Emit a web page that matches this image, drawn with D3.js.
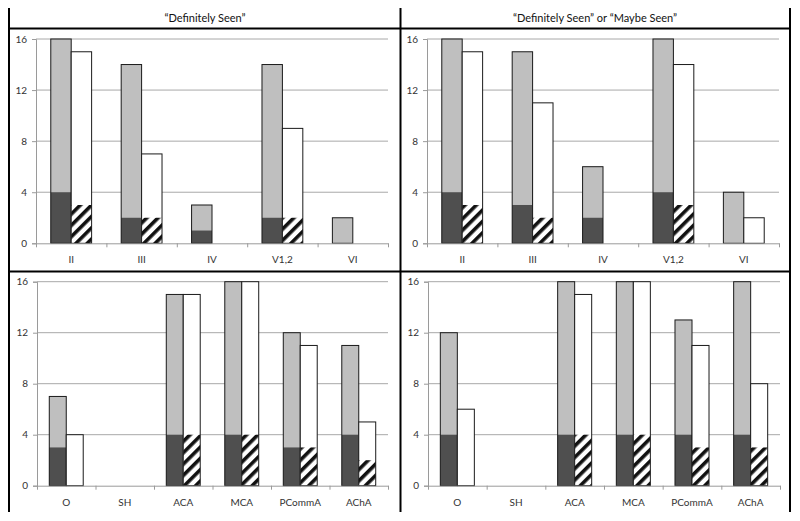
<!DOCTYPE html>
<html>
<head>
<meta charset="utf-8">
<script src="https://cdn.jsdelivr.net/npm/d3@7"></script>
<style>
  html, body { margin: 0; padding: 0; background: #fff; }
  svg { display: block; }
  text { font-family: Lato, "Open Sans", sans-serif; }
</style>
</head>
<body>
<svg id="chart" width="800" height="521"></svg>
<script>
// ---------- data ----------
const titles = ["\u201CDefinitely Seen\u201D", "\u201CDefinitely Seen\u201D or \u201CMaybe Seen\u201D"];
const nerveCats = ["II", "III", "IV", "V1,2", "VI"];
const vesselCats = ["O", "SH", "ACA", "MCA", "PCommA", "AChA"];
const yTicks = [0, 4, 8, 12, 16];

// "Definitely Seen" – cranial nerves
const defNerveGray  = [16, 14, 3, 14, 2];
const defNerveDark  = [4, 2, 1, 2, 0];
const defNerveWhite = [15, 7, 0, 9, 0];
const defNerveHatch = [3, 2, 0, 2, 0];

// "Definitely or Maybe Seen" – cranial nerves
const anyNerveGray  = [16, 15, 6, 16, 4];
const anyNerveDark  = [4, 3, 2, 4, 0];
const anyNerveWhite = [15, 11, 0, 14, 2];
const anyNerveHatch = [3, 2, 0, 3, 0];

// "Definitely Seen" – vessels
const defVesselGray  = [7, 0, 15, 16, 12, 11];
const defVesselDark  = [3, 0, 4, 4, 3, 4];
const defVesselWhite = [4, 0, 15, 16, 11, 5];
const defVesselHatch = [0, 0, 4, 4, 3, 2];

// "Definitely or Maybe Seen" – vessels
const anyVesselGray  = [12, 0, 16, 16, 13, 16];
const anyVesselDark  = [4, 0, 4, 4, 4, 4];
const anyVesselWhite = [6, 0, 15, 16, 11, 8];
const anyVesselHatch = [0, 0, 4, 4, 3, 3];

// ---------- drawing ----------
const svg = d3.select("#chart");

const defs = svg.append("defs");
const pat = defs.append("pattern")
  .attr("id", "hatch")
  .attr("patternUnits", "userSpaceOnUse")
  .attr("width", 8).attr("height", 8)
  .attr("patternTransform", "rotate(45)");
pat.append("rect").attr("width", 8).attr("height", 8).attr("fill", "#fff");
pat.append("rect").attr("width", 3.6).attr("height", 8).attr("fill", "#111");

const panels = [
  { cats: nerveCats, gray: defNerveGray, dark: defNerveDark, white: defNerveWhite, hatch: defNerveHatch,
    x0: 36, x1: 388, yb: 243.3, yt: 39 },
  { cats: nerveCats, gray: anyNerveGray, dark: anyNerveDark, white: anyNerveWhite, hatch: anyNerveHatch,
    x0: 427, x1: 779, yb: 243.3, yt: 39 },
  { cats: vesselCats, gray: defVesselGray, dark: defVesselDark, white: defVesselWhite, hatch: defVesselHatch,
    x0: 37, x1: 388, yb: 485.7, yt: 281.7 },
  { cats: vesselCats, gray: anyVesselGray, dark: anyVesselDark, white: anyVesselWhite, hatch: anyVesselHatch,
    x0: 428, x1: 780, yb: 485.7, yt: 281.7 }
];

panels.forEach(p => {
  const g = svg.append("g");
  const x = d3.scaleBand().domain(p.cats).range([p.x0, p.x1]).paddingInner(0).paddingOuter(0);
  const y = d3.scaleLinear().domain([0, 16]).range([p.yb, p.yt]);
  const bw = x.bandwidth() * 0.29;
  const pad = (x.bandwidth() - 2 * bw) / 2;

  // gridlines
  g.selectAll(".grid").data(yTicks.filter(t => t > 0)).join("line")
    .attr("x1", p.x0).attr("x2", p.x1)
    .attr("y1", d => y(d)).attr("y2", d => y(d))
    .attr("stroke", "#a8a8a8").attr("stroke-width", 1);

  // y axis
  const ya = g.append("g").attr("transform", `translate(${p.x0},0)`)
    .call(d3.axisLeft(y).tickValues(yTicks).tickSize(4).tickPadding(5).tickFormat(d3.format("d")));
  ya.select(".domain").attr("stroke", "#9a9a9a");
  ya.selectAll(".tick line").attr("stroke", "#9a9a9a");
  ya.selectAll(".tick text").attr("fill", "#333").style("font-size", "10px").style("font-family", "Lato, sans-serif");

  const rows = p.cats.map((c, i) => ({ c, gray: p.gray[i], dark: p.dark[i], white: p.white[i], hatch: p.hatch[i] }));

  // gray stacked bars
  const bars = g.selectAll(".bar").data(rows).join("g");
  bars.filter(d => d.gray > 0).append("rect")
    .attr("x", d => x(d.c) + pad).attr("width", bw)
    .attr("y", d => y(d.gray)).attr("height", d => y(0) - y(d.gray))
    .attr("fill", "#bfbfbf");
  bars.filter(d => d.dark > 0).append("rect")
    .attr("x", d => x(d.c) + pad).attr("width", bw)
    .attr("y", d => y(d.dark)).attr("height", d => y(0) - y(d.dark))
    .attr("fill", "#4f4f4f");
  bars.filter(d => d.gray > 0).append("rect")
    .attr("x", d => x(d.c) + pad).attr("width", bw)
    .attr("y", d => y(d.gray)).attr("height", d => y(0) - y(d.gray))
    .attr("fill", "none").attr("stroke", "#1a1a1a").attr("stroke-width", 1);

  // white bars with hatched base
  bars.filter(d => d.white > 0).append("rect")
    .attr("x", d => x(d.c) + pad + bw).attr("width", bw)
    .attr("y", d => y(d.white)).attr("height", d => y(0) - y(d.white))
    .attr("fill", "#fff");
  bars.filter(d => d.hatch > 0).append("rect")
    .attr("x", d => x(d.c) + pad + bw).attr("width", bw)
    .attr("y", d => y(d.hatch)).attr("height", d => y(0) - y(d.hatch))
    .attr("fill", "url(#hatch)");
  bars.filter(d => d.white > 0).append("rect")
    .attr("x", d => x(d.c) + pad + bw).attr("width", bw)
    .attr("y", d => y(d.white)).attr("height", d => y(0) - y(d.white))
    .attr("fill", "none").attr("stroke", "#1a1a1a").attr("stroke-width", 1);

  // x axis: line + boundary ticks
  const xb = d3.scaleLinear().domain([0, p.cats.length]).range([p.x0, p.x1]);
  const xa = g.append("g").attr("transform", `translate(0,${p.yb})`)
    .call(d3.axisBottom(xb).tickValues(d3.range(p.cats.length + 1)).tickSize(4).tickSizeOuter(0).tickFormat(""));
  xa.select(".domain").attr("stroke", "#9a9a9a");
  xa.selectAll(".tick line").attr("stroke", "#9a9a9a");

  // category labels
  const xl = g.append("g").attr("transform", `translate(0,${p.yb})`)
    .call(d3.axisBottom(x).tickSize(0).tickPadding(13));
  xl.select(".domain").remove();
  xl.selectAll(".tick text").attr("fill", "#333").style("font-size", "10px").style("font-family", "Lato, sans-serif");
});

// panel frame lines
const frame = [
  [9, 8, 9, 512], [400.5, 8, 400.5, 512], [790, 8, 790, 512],
  [9, 28.5, 790, 28.5], [9, 271.5, 790, 271.5]
];
svg.selectAll(".frame").data(frame).join("line")
  .attr("x1", d => d[0]).attr("y1", d => d[1]).attr("x2", d => d[2]).attr("y2", d => d[3])
  .attr("stroke", "#000").attr("stroke-width", 2);

// titles
svg.selectAll(".title").data(titles).join("text")
  .attr("x", (d, i) => i === 0 ? 205 : 595).attr("y", 22)
  .attr("text-anchor", "middle")
  .attr("fill", "#111")
  .style("font-size", "11px")
  .text(d => d);
</script>
</body>
</html>
